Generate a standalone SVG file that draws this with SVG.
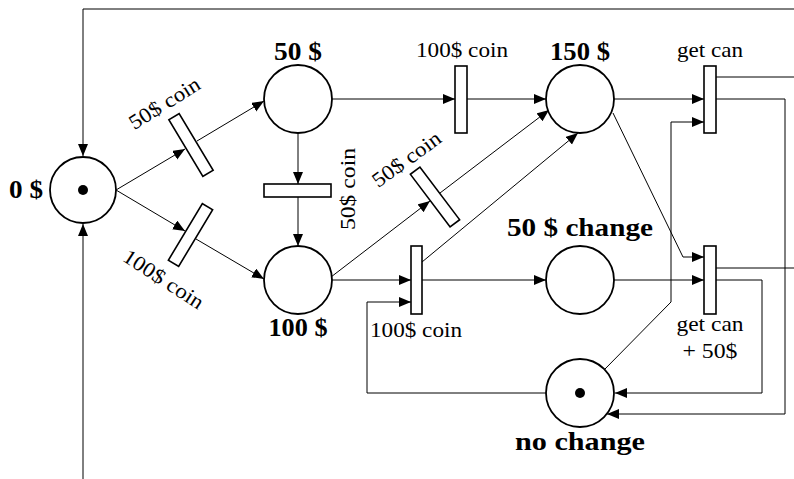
<svg xmlns="http://www.w3.org/2000/svg" width="794" height="479" viewBox="0 0 794 479">
<defs>
<marker id="ah" markerUnits="userSpaceOnUse" markerWidth="13" markerHeight="11" refX="12" refY="5" orient="auto">
<path d="M0,0 L12,5 L0,10 z" fill="#000"/>
</marker>
<style>
.place{fill:#fff;stroke:#000;stroke-width:1.8}
.tr{fill:#fff;stroke:#000;stroke-width:1.6}
.arc{fill:none;stroke:#000;stroke-width:1}
.arw{fill:none;stroke:#000;stroke-width:1;marker-end:url(#ah)}
.lbl{font-family:"Liberation Serif","Times New Roman",serif;font-size:21px;fill:#000}
.pl{font-family:"Liberation Serif","Times New Roman",serif;font-size:25px;font-weight:bold;fill:#000}
.tok{fill:#000}
</style>
</defs>
<rect width="794" height="479" fill="#fff"/>
<g id="connectors">
<path class="arw" d="M794,9 L83,9 L83,156"/>
<path class="arw" d="M83,479 L83,224"/>
<path class="arw" d="M116,190 L185,149"/>
<path class="arw" d="M197,141 L264,101"/>
<path class="arw" d="M116,190 L185,231"/>
<path class="arw" d="M196,239 L264,279"/>
<path class="arw" d="M298,133 L298,184"/>
<path class="arw" d="M298,197 L298,246"/>
<path class="arw" d="M332,99 L455,99"/>
<path class="arw" d="M467,99 L546,99"/>
<path class="arw" d="M331,277 L430,201"/>
<path class="arw" d="M440,193 L549,110"/>
<path class="arw" d="M332,280 L411,280"/>
<path class="arw" d="M547,393 L367,393 L367,302 L411,302"/>
<path class="arw" d="M422,280 L546,280"/>
<path class="arw" d="M422,262 L578,133"/>
<path class="arw" d="M614,99 L704,99"/>
<path class="arw" d="M605,369 L671,302 L671,122 L704,122"/>
<path class="arw" d="M613,113 L683,257 L704,257"/>
<path class="arw" d="M614,280 L704,280"/>
<path class="arc" d="M716,77 L794,77"/>
<path class="arw" d="M716,99 L785,99 L785,414 L607,414"/>
<path class="arc" d="M716,268 L794,268"/>
<path class="arw" d="M716,280 L762,280 L762,393 L615,393"/>
</g>
<g id="p0">
<circle class="place" cx="83" cy="190" r="33"/>
<circle class="tok" cx="83" cy="190" r="5"/>
<text class="pl" x="43" y="198" text-anchor="end" textLength="34" lengthAdjust="spacingAndGlyphs">0 $</text>
</g>
<g id="p50">
<circle class="place" cx="298" cy="99" r="34"/>
<text class="pl" x="298" y="60" text-anchor="middle" textLength="48" lengthAdjust="spacingAndGlyphs">50 $</text>
</g>
<g id="p100">
<circle class="place" cx="298" cy="280" r="34"/>
<text class="pl" x="298" y="336" text-anchor="middle" textLength="59" lengthAdjust="spacingAndGlyphs">100 $</text>
</g>
<g id="p150">
<circle class="place" cx="580" cy="99" r="34"/>
<text class="pl" x="580" y="60" text-anchor="middle" textLength="60" lengthAdjust="spacingAndGlyphs">150 $</text>
</g>
<g id="pchange">
<circle class="place" cx="580" cy="280" r="34"/>
<text class="pl" x="580" y="236" text-anchor="middle" textLength="146" lengthAdjust="spacingAndGlyphs">50 $ change</text>
</g>
<g id="pnochange">
<circle class="place" cx="580" cy="393" r="34"/>
<circle class="tok" cx="580" cy="393" r="5"/>
<text class="pl" x="580" y="450" text-anchor="middle" textLength="130" lengthAdjust="spacingAndGlyphs">no change</text>
</g>
<g id="t1">
<rect class="tr" x="-6" y="-33" width="12" height="66" transform="translate(191,145) rotate(-31)"/>
<text class="lbl" text-anchor="middle" transform="translate(165,104) rotate(-32)" y="6" x="0" textLength="80" lengthAdjust="spacingAndGlyphs">50$ coin</text>
</g>
<g id="t2">
<rect class="tr" x="-6" y="-33" width="12" height="66" transform="translate(190.5,235) rotate(31)"/>
<text class="lbl" text-anchor="middle" transform="translate(163,280) rotate(33)" y="6" x="0" textLength="92" lengthAdjust="spacingAndGlyphs">100$ coin</text>
</g>
<g id="t3">
<rect class="tr" x="264" y="184" width="67" height="13"/>
<text class="lbl" text-anchor="middle" transform="translate(349,189) rotate(-90)" y="6" x="0" textLength="82" lengthAdjust="spacingAndGlyphs">50$ coin</text>
</g>
<g id="t4">
<rect class="tr" x="455" y="66" width="12" height="67"/>
<text class="lbl" x="462" y="57" text-anchor="middle" textLength="92" lengthAdjust="spacingAndGlyphs">100$ coin</text>
</g>
<g id="t5">
<rect class="tr" x="-6" y="-33" width="12" height="66" transform="translate(435,197) rotate(-37)"/>
<text class="lbl" text-anchor="middle" transform="translate(407,160) rotate(-36)" y="6" x="0" textLength="80" lengthAdjust="spacingAndGlyphs">50$ coin</text>
</g>
<g id="t6">
<rect class="tr" x="411" y="246" width="11" height="68"/>
<text class="lbl" x="416" y="337" text-anchor="middle" textLength="92" lengthAdjust="spacingAndGlyphs">100$ coin</text>
</g>
<g id="t7">
<rect class="tr" x="704" y="66" width="12" height="67"/>
<text class="lbl" x="710" y="57" text-anchor="middle" textLength="66" lengthAdjust="spacingAndGlyphs">get can</text>
</g>
<g id="t8">
<rect class="tr" x="704" y="246" width="12" height="68"/>
<text class="lbl" x="710" y="331" text-anchor="middle" textLength="67" lengthAdjust="spacingAndGlyphs">get can</text>
<text class="lbl" x="710" y="358" text-anchor="middle" textLength="55" lengthAdjust="spacingAndGlyphs">+ 50$</text>
</g>
</svg>
